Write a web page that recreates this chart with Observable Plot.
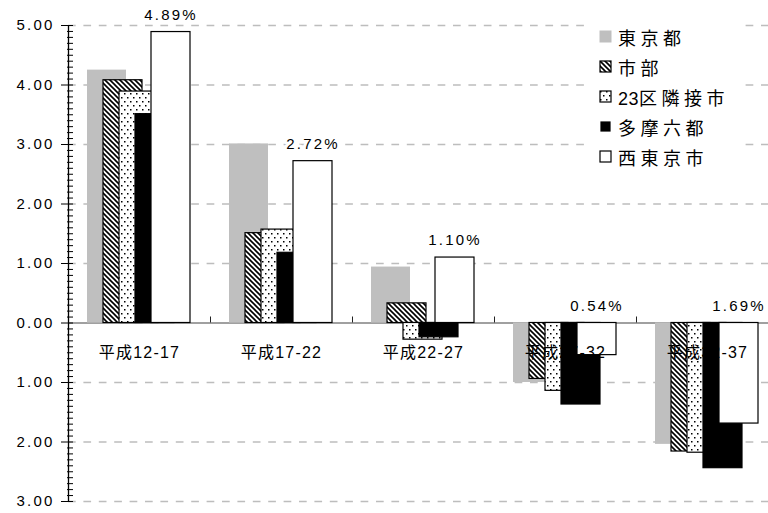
<!DOCTYPE html>
<html><head><meta charset="utf-8">
<script src="https://cdn.jsdelivr.net/npm/d3@7"></script>
<script src="https://cdn.jsdelivr.net/npm/@observablehq/plot@0.6"></script>
<style>
body{margin:0;background:#fff;}
#wrap{position:relative;width:768px;height:513px;overflow:hidden;background:#fff;}
#wrap svg text{letter-spacing:2.2px;}
.legend{position:absolute;left:587px;top:16px;width:157px;height:158px;background:#fff;font-family:"Noto Sans CJK JP",sans-serif;font-size:18px;color:#000;}
.row{position:absolute;left:0;height:30px;display:flex;align-items:center;white-space:nowrap;}
.row svg{display:block;margin-left:12px;margin-right:6px;}
.row span.t{letter-spacing:4.5px;}
.row span.a{letter-spacing:0.5px;font-family:"Liberation Sans",sans-serif;}
</style></head><body><div id="wrap"></div>
<script>
// ---- data ----
const categories = ["平成12-17","平成17-22","平成22-27","平成27-32","平成32-37"];
const seriesNames = ["東京都","市部","23区隣接市","多摩六都","西東京市"];
const tokyo      = [4.25, 3.01, 0.94, -1.00, -2.04];
const shibu      = [4.08, 1.51, 0.33, -0.94, -2.16];
const rinsetsu   = [3.89, 1.57, -0.28, -1.14, -2.18];
const tamaRokuto = [3.51, 1.18, -0.24, -1.37, -2.44];
const nishiTokyo = [4.89, 2.72, 1.10, -0.54, -1.69];
const yTicks = [-3,-2,-1,0,1,2,3,4,5];

// ---- styles ----
const fills   = ["#bfbfbf","url(#hatch)","url(#dots)","#000000","#ffffff"];
const strokes = ["none","#000","#000","#000","#000"];
const seriesValues = [tokyo, shibu, rinsetsu, tamaRokuto, nishiTokyo];

const rows = [];
seriesValues.forEach((vals, i) => vals.forEach((v, g) => rows.push({i, g, cat: categories[g], series: seriesNames[i], v})));

const BAND = 142, OFF = 19, STEP = 16, BW = 39;
const bx1 = d => d.g + (OFF + STEP * d.i) / BAND;
const bx2 = d => d.g + (OFF + STEP * d.i + BW) / BAND;

const minorTicks = d3.range(-30, 51).map(d => d / 10).filter(d => !yTicks.includes(d));
const labelRows = nishiTokyo.map((v, g) => ({g, v, i: 4}));

const marks = [
  Plot.ruleY(yTicks.filter(t => t !== 0), {y: d => d, x1: 0, x2: 5, stroke: "#bdbdbd", strokeWidth: 1.5, strokeDasharray: "7.7,7.7"}),
  Plot.ruleY([0], {y: d => d, x1: 0, x2: 5, stroke: "#808080", strokeWidth: 1.5}),
  Plot.ruleX([1,2,3,4], {x: d => d, y1: 0, y2: 0, insetTop: -6, stroke: "#222", strokeWidth: 1}),
];
seriesNames.forEach((name, i) => {
  marks.push(Plot.rect(rows.filter(r => r.i === i), {
    x1: bx1, x2: bx2, y1: 0, y2: "v",
    fill: fills[i], stroke: strokes[i], strokeWidth: 1.2
  }));
});
marks.push(
  Plot.ruleX([0], {x: d => d, stroke: "#000", strokeWidth: 1.3}),
  Plot.axisY(minorTicks, {tickSize: 6, tickFormat: () => "", stroke: "#000", label: null}),
  Plot.axisY(yTicks, {tickSize: 12, tickPadding: 7, fontSize: 15, tickFormat: d => Math.abs(d).toFixed(2), stroke: "#000", fill: "#000", label: null}),
  Plot.text(labelRows, {
    x: d => d.g + (OFF + STEP * 4 + BW / 2) / BAND,
    y: d => Math.max(d.v, 0),
    text: d => Math.abs(d.v).toFixed(2) + "%",
    dy: -17, fontSize: 15, fill: "#000", stroke: "#fff", strokeWidth: 6, paintOrder: "stroke"
  }),
  Plot.text(categories, {x: (d, i) => i + 0.5, y: 0, text: d => d, dy: 30, fontSize: 16, fill: "#000"})
);

const chart = Plot.plot({
  width: 768, height: 513,
  marginLeft: 73, marginRight: 0, marginTop: 25, marginBottom: 12,
  x: {domain: [0, 5], range: [68, 778], axis: null},
  y: {domain: [-3, 5], axis: null},
  style: {fontFamily: '"Liberation Sans","Noto Sans CJK JP",sans-serif', background: "white", color: "#000"},
  marks
});

function addDefs(svgSel) {
  const defs = svgSel.insert("defs", ":first-child");
  const h = defs.append("pattern").attr("id", "hatch").attr("patternUnits", "userSpaceOnUse").attr("width", 5).attr("height", 5);
  h.append("rect").attr("width", 5).attr("height", 5).attr("fill", "#fff");
  h.append("path").attr("d", "M-1,-1L6,6M-1,4L1,6M4,-1L6,1").attr("stroke", "#000").attr("stroke-width", 1.6);
  const p = defs.append("pattern").attr("id", "dots").attr("patternUnits", "userSpaceOnUse").attr("width", 6).attr("height", 8);
  p.append("rect").attr("width", 6).attr("height", 8).attr("fill", "#fff");
  p.append("rect").attr("x", 1).attr("y", 1).attr("width", 1.5).attr("height", 1.5).attr("fill", "#000");
  p.append("rect").attr("x", 4).attr("y", 5).attr("width", 1.5).attr("height", 1.5).attr("fill", "#000");
}
addDefs(d3.select(chart));
d3.select(chart).selectAll("g[font-size='16'] text").style("letter-spacing", "1.2px");

const wrap = document.getElementById("wrap");
wrap.appendChild(chart);

// ---- legend ----
const legend = document.createElement("div");
legend.className = "legend";
const swatchSize = [12, 12, 12, 10, 12];
seriesNames.forEach((name, i) => {
  const row = document.createElement("div");
  row.className = "row";
  row.style.top = (5.5 + 30 * i) + "px";
  const s = swatchSize[i];
  const border = strokes[i] !== "none";
  const html = name.replace(/([0-9]+)/g, '<span class="a">$1</span>');
  row.innerHTML = `<svg width="13" height="13" viewBox="0 0 13 13"><rect x="${(13 - s) / 2 + (border ? 0.5 : 0)}" y="${(13 - s) / 2 + (border ? 0.5 : 0)}" width="${border ? s - 1 : s}" height="${border ? s - 1 : s}" fill="${fills[i]}" stroke="${strokes[i]}" stroke-width="1.2"/></svg><span class="t">${html}</span>`;
  legend.appendChild(row);
});
wrap.appendChild(legend);
</script>
</body></html>
